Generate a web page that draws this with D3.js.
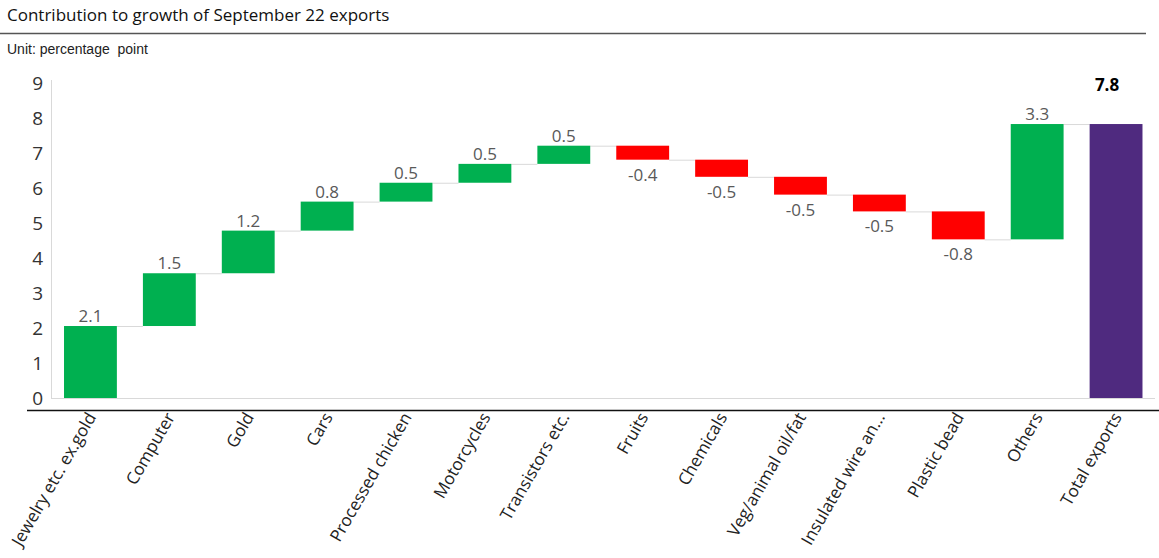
<!DOCTYPE html>
<html>
<head>
<meta charset="utf-8">
<script src="https://cdn.jsdelivr.net/npm/d3@7"></script>
<style>
  html, body { margin: 0; padding: 0; background: #fff; }
  svg { display: block; }
</style>
</head>
<body>
<svg id="chart" width="1159" height="558"></svg>
<script>
// ---- Data ----
const categories = ["Jewelry etc. ex.gold", "Computer", "Gold", "Cars", "Processed chicken",
  "Motorcycles", "Transistors etc.", "Fruits", "Chemicals", "Veg/animal oil/fat",
  "Insulated wire an...", "Plastic bead", "Others", "Total exports"];
const contributions = [2.06, 1.51, 1.22, 0.83, 0.54, 0.54, 0.52, -0.40, -0.49, -0.51, -0.48, -0.80, 3.30];
const yTicks = [0, 1, 2, 3, 4, 5, 6, 7, 8, 9];
const titleText = "Contribution to growth of September 22 exports";
const unitText = "Unit: percentage\u00a0\u00a0point";

// ---- Build waterfall rows ----
let running = 0;
const rows = contributions.map((v, i) => {
  const start = running;
  running += v;
  return { cat: categories[i], value: v, start: start, end: running, total: false };
});
rows.push({ cat: categories[13], value: running, start: 0, end: running, total: true });

const svg = d3.select("#chart");
const fmt = d3.formatLocale({ decimal: ".", thousands: ",", grouping: [3], currency: ["", ""], minus: "-" }).format(".1f");
const FONT = "'Open Sans', 'Noto Sans', sans-serif";

const x = d3.scaleBand().domain(categories).range([51, 1155.5]).paddingInner(0.33).paddingOuter(0.165);
const y = d3.scaleLinear().domain([0, 9]).range([398, 83.5]);

// Title
svg.append("text").attr("x", 7).attr("y", 21)
  .attr("font-family", FONT).attr("font-size", 17)
  .attr("fill", "#111").text(titleText);
svg.append("line").attr("x1", 0).attr("x2", 1146).attr("y1", 33.5).attr("y2", 33.5)
  .attr("stroke", "#555").attr("stroke-width", 1.5);
svg.append("text").attr("x", 7).attr("y", 54)
  .attr("font-family", "'Liberation Sans', Arial, sans-serif").attr("font-size", 14)
  .attr("fill", "#222").text(unitText);

// Axis frame lines (light gray)
svg.append("line").attr("x1", 51.5).attr("x2", 51.5).attr("y1", 80).attr("y2", y(0))
  .attr("stroke", "#d9d9d9").attr("stroke-width", 1);
svg.append("line").attr("x1", 51).attr("x2", 1155).attr("y1", y(0) + 0.5).attr("y2", y(0) + 0.5)
  .attr("stroke", "#d9d9d9").attr("stroke-width", 1);

// Y axis via d3.axisLeft
const yAxis = svg.append("g").attr("transform", "translate(45,0)")
  .call(d3.axisLeft(y).tickValues(yTicks).tickSize(0).tickPadding(2).tickFormat(d3.format("d")));
yAxis.select(".domain").remove();
yAxis.selectAll("text")
  .attr("font-family", FONT).attr("font-size", 19)
  .attr("fill", "#333");

// Black axis line below
svg.append("line").attr("x1", 27).attr("x2", 1159).attr("y1", 410.5).attr("y2", 410.5)
  .attr("stroke", "#111").attr("stroke-width", 1.5);

// Connectors
const conn = rows.slice(0, rows.length - 1);
svg.append("g").selectAll("line").data(conn).join("line")
  .attr("x1", d => x(d.cat) + x.bandwidth())
  .attr("x2", (d, i) => x(categories[i + 1]))
  .attr("y1", d => y(d.end) + 0.5)
  .attr("y2", d => y(d.end) + 0.5)
  .attr("stroke", "#d9d9d9").attr("stroke-width", 1);

// Bars
svg.append("g").selectAll("rect").data(rows).join("rect")
  .attr("x", d => x(d.cat))
  .attr("width", x.bandwidth())
  .attr("y", d => y(Math.max(d.start, d.end)))
  .attr("height", d => Math.abs(y(d.start) - y(d.end)))
  .attr("fill", d => d.total ? "#4f2a7f" : (d.value >= 0 ? "#00b050" : "#ff0000"));

// Value labels
svg.append("g").selectAll("text").data(rows).join("text")
  .attr("x", d => x(d.cat) + x.bandwidth() / 2 - (d.total ? 9 : 0))
  .attr("y", d => d.total ? 91 : (d.value >= 0 ? y(d.end) - 4 : y(d.end) + 21))
  .attr("text-anchor", "middle")
  .attr("font-family", FONT)
  .attr("font-size", 17)
  .attr("font-weight", d => d.total ? "bold" : "normal")
  .attr("fill", d => d.total ? "#000" : "#595959")
  .text(d => fmt(d.value));

// X axis labels via d3.axisBottom
const xAxis = svg.append("g").attr("transform", "translate(0,412)")
  .call(d3.axisBottom(x).tickSize(0).tickPadding(0));
xAxis.select(".domain").remove();
xAxis.selectAll("text")
  .attr("font-family", FONT).attr("font-size", 17)
  .attr("fill", "#222")
  .attr("text-anchor", "end")
  .attr("dy", "0.35em")
  .attr("transform", "translate(1,2) rotate(-60)");
</script>
</body>
</html>
